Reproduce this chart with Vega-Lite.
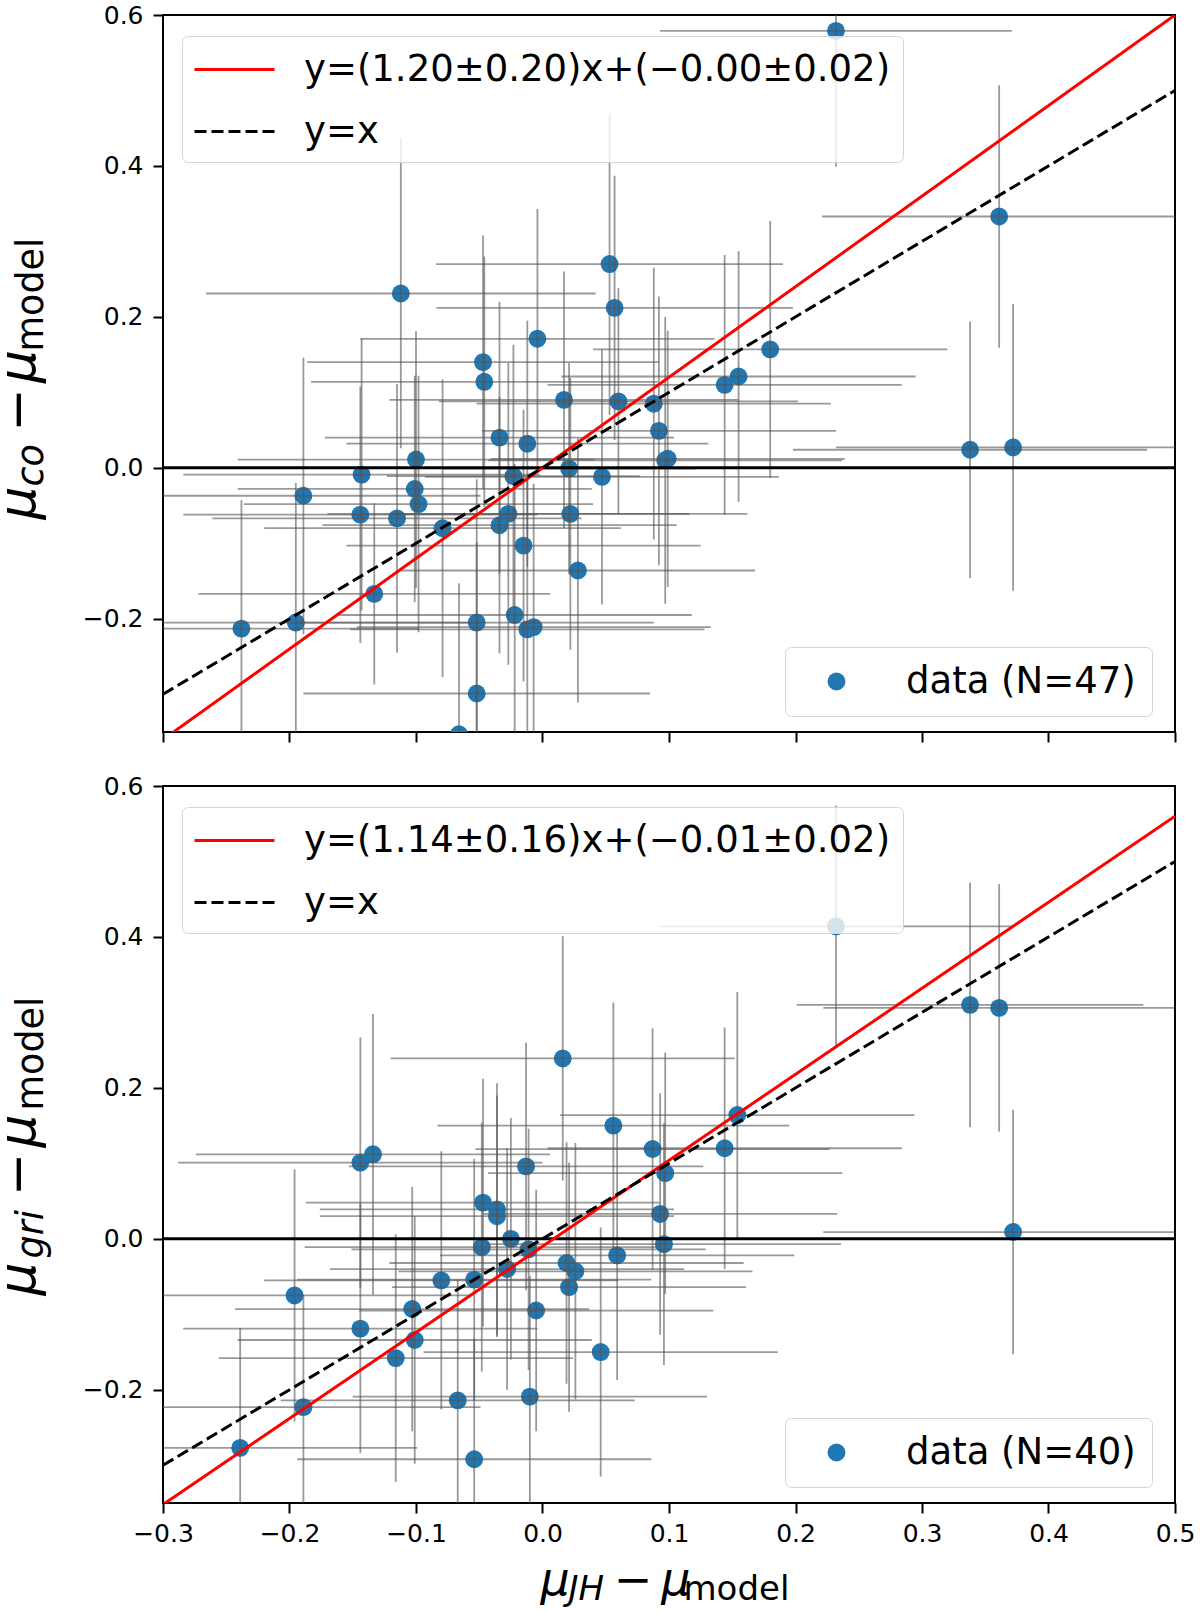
{
  "$schema": "https://vega.github.io/schema/vega-lite/v6.json",
  "background": "white",
  "padding": {"left": -9, "top": 2, "right": 5, "bottom": 5},
  "config": {
    "font": "DejaVu Sans",
    "view": {"stroke": "black", "strokeWidth": 2},
    "axis": {
      "grid": false, "domain": false, "tickColor": "black", "tickWidth": 2, "tickSize": 10,
      "labelFont": "DejaVu Sans", "labelFontSize": 25, "labelColor": "black", "labelPadding": 8,
      "labelFlush": false, "labelOverlap": false,
      "titleFont": "DejaVu Sans", "titleColor": "black", "titleFontWeight": "normal"
    },
    "legend": {
      "labelFont": "DejaVu Sans", "labelColor": "black", "labelFontSize": 37, "labelLimit": 1000,
      "fillColor": "rgba(255,255,255,0.8)", "strokeColor": "#d4d4d4", "cornerRadius": 6
    }
  },
  "datasets": {
    "top_points": [
      {"x": 0.232, "y": 0.579, "xerr": 0.139, "yerr": 0.18},
      {"x": 0.361, "y": 0.333, "xerr": 0.14, "yerr": 0.174},
      {"x": -0.112, "y": 0.231, "xerr": 0.154, "yerr": 0.205},
      {"x": 0.053, "y": 0.27, "xerr": 0.137, "yerr": 0.2},
      {"x": 0.057, "y": 0.212, "xerr": 0.141, "yerr": 0.175},
      {"x": -0.004, "y": 0.171, "xerr": 0.14, "yerr": 0.172},
      {"x": -0.047, "y": 0.14, "xerr": 0.139, "yerr": 0.168},
      {"x": -0.046, "y": 0.114, "xerr": 0.137, "yerr": 0.166},
      {"x": 0.18, "y": 0.157, "xerr": 0.14, "yerr": 0.17},
      {"x": 0.144, "y": 0.11, "xerr": 0.14, "yerr": 0.172},
      {"x": 0.155, "y": 0.121, "xerr": 0.14, "yerr": 0.166},
      {"x": 0.017, "y": 0.09, "xerr": 0.138, "yerr": 0.17},
      {"x": 0.06, "y": 0.088, "xerr": 0.142, "yerr": 0.15},
      {"x": 0.088, "y": 0.085, "xerr": 0.14, "yerr": 0.18},
      {"x": 0.092, "y": 0.049, "xerr": 0.14, "yerr": 0.178},
      {"x": 0.097, "y": 0.01, "xerr": 0.14, "yerr": 0.19},
      {"x": 0.099, "y": 0.012, "xerr": 0.14, "yerr": 0.17},
      {"x": -0.034, "y": 0.04, "xerr": 0.138, "yerr": 0.18},
      {"x": -0.012, "y": 0.032, "xerr": 0.143, "yerr": 0.163},
      {"x": -0.1, "y": 0.011, "xerr": 0.141, "yerr": 0.17},
      {"x": 0.338, "y": 0.024, "xerr": 0.14, "yerr": 0.17},
      {"x": 0.372, "y": 0.027, "xerr": 0.14, "yerr": 0.19},
      {"x": -0.143, "y": -0.009, "xerr": 0.141, "yerr": 0.18},
      {"x": -0.023, "y": -0.011, "xerr": 0.1, "yerr": 0.174},
      {"x": 0.021, "y": -0.001, "xerr": 0.1, "yerr": 0.14},
      {"x": 0.047, "y": -0.012, "xerr": 0.14, "yerr": 0.169},
      {"x": -0.189, "y": -0.037, "xerr": 0.14, "yerr": 0.183},
      {"x": -0.101, "y": -0.028, "xerr": 0.14, "yerr": 0.15},
      {"x": -0.098, "y": -0.048, "xerr": 0.138, "yerr": 0.17},
      {"x": -0.144, "y": -0.062, "xerr": 0.14, "yerr": 0.17},
      {"x": -0.115, "y": -0.067, "xerr": 0.146, "yerr": 0.178},
      {"x": -0.079, "y": -0.08, "xerr": 0.141, "yerr": 0.197},
      {"x": -0.027, "y": -0.061, "xerr": 0.143, "yerr": 0.2},
      {"x": -0.034, "y": -0.076, "xerr": 0.14, "yerr": 0.17},
      {"x": 0.022, "y": -0.061, "xerr": 0.14, "yerr": 0.18},
      {"x": -0.015, "y": -0.103, "xerr": 0.14, "yerr": 0.18},
      {"x": 0.028, "y": -0.136, "xerr": 0.14, "yerr": 0.175},
      {"x": -0.133, "y": -0.167, "xerr": 0.139, "yerr": 0.12},
      {"x": -0.238, "y": -0.213, "xerr": 0.14, "yerr": 0.17},
      {"x": -0.195, "y": -0.205, "xerr": 0.14, "yerr": 0.185},
      {"x": -0.052, "y": -0.205, "xerr": 0.14, "yerr": 0.19},
      {"x": -0.022, "y": -0.195, "xerr": 0.14, "yerr": 0.2},
      {"x": -0.012, "y": -0.214, "xerr": 0.14, "yerr": 0.2},
      {"x": -0.007, "y": -0.211, "xerr": 0.14, "yerr": 0.19},
      {"x": -0.052, "y": -0.299, "xerr": 0.137, "yerr": 0.2},
      {"x": -0.066, "y": -0.353, "xerr": 0.14, "yerr": 0.2}
    ],
    "bottom_points": [
      {"x": 0.016, "y": 0.239, "xerr": 0.136, "yerr": 0.162},
      {"x": 0.056, "y": 0.15, "xerr": 0.139, "yerr": 0.163},
      {"x": 0.087, "y": 0.119, "xerr": 0.14, "yerr": 0.16},
      {"x": 0.097, "y": 0.087, "xerr": 0.14, "yerr": 0.16},
      {"x": 0.093, "y": 0.033, "xerr": 0.14, "yerr": 0.16},
      {"x": 0.096, "y": -0.007, "xerr": 0.14, "yerr": 0.16},
      {"x": -0.144, "y": 0.101, "xerr": 0.144, "yerr": 0.166},
      {"x": -0.134, "y": 0.112, "xerr": 0.14, "yerr": 0.186},
      {"x": -0.013, "y": 0.096, "xerr": 0.14, "yerr": 0.164},
      {"x": -0.047, "y": 0.048, "xerr": 0.14, "yerr": 0.164},
      {"x": -0.036, "y": 0.039, "xerr": 0.14, "yerr": 0.167},
      {"x": -0.036, "y": 0.03, "xerr": 0.14, "yerr": 0.16},
      {"x": -0.025, "y": 0.0, "xerr": 0.14, "yerr": 0.16},
      {"x": -0.048, "y": -0.011, "xerr": 0.14, "yerr": 0.165},
      {"x": -0.011, "y": -0.014, "xerr": 0.14, "yerr": 0.16},
      {"x": 0.059, "y": -0.022, "xerr": 0.14, "yerr": 0.165},
      {"x": 0.019, "y": -0.032, "xerr": 0.14, "yerr": 0.16},
      {"x": 0.026, "y": -0.043, "xerr": 0.14, "yerr": 0.17},
      {"x": 0.021, "y": -0.064, "xerr": 0.14, "yerr": 0.165},
      {"x": -0.028, "y": -0.04, "xerr": 0.14, "yerr": 0.16},
      {"x": -0.08, "y": -0.055, "xerr": 0.14, "yerr": 0.171},
      {"x": -0.054, "y": -0.054, "xerr": 0.14, "yerr": 0.16},
      {"x": -0.196, "y": -0.075, "xerr": 0.14, "yerr": 0.167},
      {"x": -0.103, "y": -0.093, "xerr": 0.14, "yerr": 0.162},
      {"x": -0.005, "y": -0.095, "xerr": 0.14, "yerr": 0.16},
      {"x": -0.144, "y": -0.119, "xerr": 0.14, "yerr": 0.165},
      {"x": -0.101, "y": -0.134, "xerr": 0.14, "yerr": 0.164},
      {"x": -0.116, "y": -0.158, "xerr": 0.14, "yerr": 0.164},
      {"x": 0.046, "y": -0.15, "xerr": 0.14, "yerr": 0.165},
      {"x": -0.067, "y": -0.214, "xerr": 0.14, "yerr": 0.16},
      {"x": -0.01, "y": -0.209, "xerr": 0.14, "yerr": 0.16},
      {"x": -0.189, "y": -0.223, "xerr": 0.14, "yerr": 0.149},
      {"x": -0.239, "y": -0.277, "xerr": 0.14, "yerr": 0.159},
      {"x": -0.054, "y": -0.292, "xerr": 0.14, "yerr": 0.16},
      {"x": 0.232, "y": 0.414, "xerr": 0.139, "yerr": 0.16},
      {"x": 0.338, "y": 0.31, "xerr": 0.137, "yerr": 0.162},
      {"x": 0.361, "y": 0.306, "xerr": 0.139, "yerr": 0.164},
      {"x": 0.154, "y": 0.164, "xerr": 0.14, "yerr": 0.163},
      {"x": 0.144, "y": 0.12, "xerr": 0.14, "yerr": 0.16},
      {"x": 0.372, "y": 0.009, "xerr": 0.15, "yerr": 0.162}
    ],
    "top_lines": [
      {"label": "y=(1.20±0.20)x+(−0.00±0.02)", "x": -0.3, "y": -0.36},
      {"label": "y=(1.20±0.20)x+(−0.00±0.02)", "x": 0.5, "y": 0.6},
      {"label": "y=x", "x": -0.3, "y": -0.3},
      {"label": "y=x", "x": 0.5, "y": 0.5}
    ],
    "bottom_lines": [
      {"label": "y=(1.14±0.16)x+(−0.01±0.02)", "x": -0.3, "y": -0.352},
      {"label": "y=(1.14±0.16)x+(−0.01±0.02)", "x": 0.5, "y": 0.56},
      {"label": "y=x", "x": -0.3, "y": -0.3},
      {"label": "y=x", "x": 0.5, "y": 0.5}
    ],
    "zero": [
      {"x": -0.3, "y": 0},
      {"x": 0.5, "y": 0}
    ]
  },
  "spacing": 29,
  "resolve": {
    "scale": {"stroke": "independent", "strokeDash": "independent", "fill": "independent"},
    "legend": {"stroke": "independent", "strokeDash": "independent", "fill": "independent"}
  },
  "vconcat": [
    {
      "width": 1012,
      "height": 717,
      "resolve": {"axis": {"x": "independent", "y": "independent"}},
      "layer": [
        {
          "data": {"name": "top_points"},
          "mark": {"type": "circle", "size": 320, "opacity": 1, "clip": true},
          "encoding": {
            "x": {"field": "x", "type": "quantitative", "scale": {"domain": [-0.3, 0.5], "nice": false, "zero": false},
              "axis": {"orient": "bottom", "values": [-0.3, -0.2, -0.1, 0, 0.1, 0.2, 0.3, 0.4, 0.5], "labels": false, "title": null}},
            "y": {"field": "y", "type": "quantitative", "scale": {"domain": [-0.35, 0.6], "nice": false, "zero": false},
              "axis": {"orient": "left", "values": [-0.2, 0, 0.2, 0.4, 0.6], "format": ".1f", "labelPadding": 10,
                "title": "μ\u00a0\u00a0\u00a0\u200a−\u200aμ", "titleFontSize": 52, "titleFontStyle": "italic",
                "titleX": -129, "titleY": 504, "titleAngle": 270, "titleAlign": "left", "titleBaseline": "alphabetic"}},
            "fill": {"datum": "data (N=47)", "type": "nominal", "scale": {"range": ["#1f77b4"]},
              "legend": {"orient": "none", "legendX": 622, "legendY": 632, "title": null, "symbolType": "circle",
                "symbolSize": 320, "symbolOffset": 17, "labelOffset": 51, "padding": 16}}
          }
        },
        {
          "data": {"name": "top_points"},
          "mark": {"type": "errorbar", "ticks": false, "thickness": 1.8, "color": "#555555", "opacity": 0.6, "clip": true},
          "encoding": {
            "x": {"field": "x", "type": "quantitative", "axis": null},
            "xError": {"field": "xerr"},
            "y": {"field": "y", "type": "quantitative", "axis": null}
          }
        },
        {
          "data": {"name": "top_points"},
          "mark": {"type": "errorbar", "ticks": false, "thickness": 1.8, "color": "#555555", "opacity": 0.6, "clip": true},
          "encoding": {
            "x": {"field": "x", "type": "quantitative", "axis": null},
            "y": {"field": "y", "type": "quantitative", "axis": null},
            "yError": {"field": "yerr"}
          }
        },
        {
          "data": {"name": "zero"},
          "mark": {"type": "line", "color": "black", "strokeWidth": 3, "clip": true},
          "encoding": {
            "x": {"field": "x", "type": "quantitative", "axis": null},
            "y": {"field": "y", "type": "quantitative",
              "axis": {"orient": "left", "domain": false, "ticks": false, "labels": false,
                "title": "co", "titleFontSize": 36.5, "titleFontStyle": "italic",
                "titleX": -121, "titleY": 471, "titleAngle": 270, "titleAlign": "left", "titleBaseline": "alphabetic"}}
          }
        },
        {
          "data": {"name": "top_lines"},
          "mark": {"type": "line", "strokeWidth": 3, "clip": true},
          "encoding": {
            "x": {"field": "x", "type": "quantitative", "axis": null},
            "y": {"field": "y", "type": "quantitative",
              "axis": {"orient": "left", "domain": false, "ticks": false, "labels": false,
                "title": "model", "titleFontSize": 36.5, "titleFontStyle": "normal",
                "titleX": -121, "titleY": 336, "titleAngle": 270, "titleAlign": "left", "titleBaseline": "alphabetic"}},
            "stroke": {"field": "label", "type": "nominal",
              "scale": {"domain": ["y=(1.20±0.20)x+(−0.00±0.02)", "y=x"], "range": ["#ff0000", "#000000"]},
              "legend": {"orient": "none", "legendX": 19, "legendY": 21, "title": null, "symbolType": "M-2,0H2",
                "symbolSize": 1600, "symbolStrokeWidth": 3, "symbolOffset": 19, "labelOffset": 48, "padding": 12, "rowPadding": 22}},
            "strokeDash": {"field": "label", "type": "nominal",
              "scale": {"domain": ["y=(1.20±0.20)x+(−0.00±0.02)", "y=x"], "range": [[1, 0], [12, 5]]},
              "legend": {"orient": "none", "legendX": 19, "legendY": 21, "title": null, "symbolType": "M-2,0H2",
                "symbolSize": 1600, "symbolStrokeWidth": 3, "symbolOffset": 19, "labelOffset": 48, "padding": 12, "rowPadding": 22}}
          }
        }
      ]
    },
    {
      "width": 1012,
      "height": 717,
      "resolve": {"axis": {"x": "independent", "y": "independent"}},
      "layer": [
        {
          "data": {"name": "bottom_points"},
          "mark": {"type": "circle", "size": 320, "opacity": 1, "clip": true},
          "encoding": {
            "x": {"field": "x", "type": "quantitative", "scale": {"domain": [-0.3, 0.5], "nice": false, "zero": false},
              "axis": {"orient": "bottom", "values": [-0.3, -0.2, -0.1, 0, 0.1, 0.2, 0.3, 0.4, 0.5], "format": ".1f", "labelPadding": 8,
                "title": "μ\u00a0\u00a0\u00a0−\u2009μ", "titleFontSize": 46, "titleFontStyle": "italic",
                "titleX": 377, "titleY": 91, "titleAngle": 0, "titleAlign": "left", "titleBaseline": "alphabetic"}},
            "y": {"field": "y", "type": "quantitative", "scale": {"domain": [-0.35, 0.6], "nice": false, "zero": false},
              "axis": {"orient": "left", "values": [-0.2, 0, 0.2, 0.4, 0.6], "format": ".1f", "labelPadding": 10,
                "title": "μ\u00a0\u00a0\u00a0\u00a0−\u200aμ", "titleFontSize": 52, "titleFontStyle": "italic",
                "titleX": -129, "titleY": 509, "titleAngle": 270, "titleAlign": "left", "titleBaseline": "alphabetic"}},
            "fill": {"datum": "data (N=40)", "type": "nominal", "scale": {"range": ["#1f77b4"]},
              "legend": {"orient": "none", "legendX": 622, "legendY": 632, "title": null, "symbolType": "circle",
                "symbolSize": 320, "symbolOffset": 17, "labelOffset": 51, "padding": 16}}
          }
        },
        {
          "data": {"name": "bottom_points"},
          "mark": {"type": "errorbar", "ticks": false, "thickness": 1.8, "color": "#555555", "opacity": 0.6, "clip": true},
          "encoding": {
            "x": {"field": "x", "type": "quantitative", "axis": null},
            "xError": {"field": "xerr"},
            "y": {"field": "y", "type": "quantitative", "axis": null}
          }
        },
        {
          "data": {"name": "bottom_points"},
          "mark": {"type": "errorbar", "ticks": false, "thickness": 1.8, "color": "#555555", "opacity": 0.6, "clip": true},
          "encoding": {
            "x": {"field": "x", "type": "quantitative", "axis": null},
            "y": {"field": "y", "type": "quantitative", "axis": null},
            "yError": {"field": "yerr"}
          }
        },
        {
          "data": {"name": "zero"},
          "mark": {"type": "line", "color": "black", "strokeWidth": 3, "clip": true},
          "encoding": {
            "x": {"field": "x", "type": "quantitative",
              "axis": {"orient": "bottom", "domain": false, "ticks": false, "labels": false,
                "title": "JH", "titleFontSize": 34, "titleFontStyle": "italic",
                "titleX": 405, "titleY": 96, "titleAngle": 0, "titleAlign": "left", "titleBaseline": "alphabetic"}},
            "y": {"field": "y", "type": "quantitative",
              "axis": {"orient": "left", "domain": false, "ticks": false, "labels": false,
                "title": "gri", "titleFontSize": 36.5, "titleFontStyle": "italic",
                "titleX": -121, "titleY": 472, "titleAngle": 270, "titleAlign": "left", "titleBaseline": "alphabetic"}}
          }
        },
        {
          "data": {"name": "bottom_lines"},
          "mark": {"type": "line", "strokeWidth": 3, "clip": true},
          "encoding": {
            "x": {"field": "x", "type": "quantitative",
              "axis": {"orient": "bottom", "domain": false, "ticks": false, "labels": false,
                "title": "model", "titleFontSize": 34, "titleFontStyle": "normal",
                "titleX": 520, "titleY": 96, "titleAngle": 0, "titleAlign": "left", "titleBaseline": "alphabetic"}},
            "y": {"field": "y", "type": "quantitative",
              "axis": {"orient": "left", "domain": false, "ticks": false, "labels": false,
                "title": "model", "titleFontSize": 36.5, "titleFontStyle": "normal",
                "titleX": -121, "titleY": 324, "titleAngle": 270, "titleAlign": "left", "titleBaseline": "alphabetic"}},
            "stroke": {"field": "label", "type": "nominal",
              "scale": {"domain": ["y=(1.14±0.16)x+(−0.01±0.02)", "y=x"], "range": ["#ff0000", "#000000"]},
              "legend": {"orient": "none", "legendX": 19, "legendY": 21, "title": null, "symbolType": "M-2,0H2",
                "symbolSize": 1600, "symbolStrokeWidth": 3, "symbolOffset": 19, "labelOffset": 48, "padding": 12, "rowPadding": 22}},
            "strokeDash": {"field": "label", "type": "nominal",
              "scale": {"domain": ["y=(1.14±0.16)x+(−0.01±0.02)", "y=x"], "range": [[1, 0], [12, 5]]},
              "legend": {"orient": "none", "legendX": 19, "legendY": 21, "title": null, "symbolType": "M-2,0H2",
                "symbolSize": 1600, "symbolStrokeWidth": 3, "symbolOffset": 19, "labelOffset": 48, "padding": 12, "rowPadding": 22}}
          }
        }
      ]
    }
  ]
}
